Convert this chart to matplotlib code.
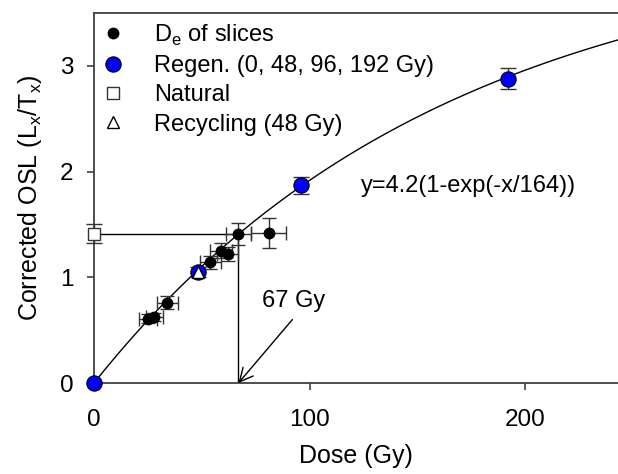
import numpy as np
import matplotlib
matplotlib.use("Agg")
import matplotlib.pyplot as plt
from matplotlib.lines import Line2D

plt.rcParams['font.family'] = ['Liberation Sans', 'DejaVu Sans']

# ---- data ----
slice_dose = [25, 28, 34, 54, 59, 62, 67, 81]
slice_lx = [0.61, 0.625, 0.76, 1.14, 1.25, 1.22, 1.41, 1.42]
slice_xerr = [4, 4, 5, 5, 5, 5, 6, 8]
slice_yerr = [0.04, 0.04, 0.06, 0.06, 0.07, 0.07, 0.10, 0.14]

regen_dose = [0, 48, 96, 192]
regen_lx = [0.0, 1.05, 1.87, 2.88]
regen_yerr = [0.0, 0.05, 0.08, 0.10]

natural_dose = [0]
natural_lx = [1.41]
natural_yerr = [0.09]

recycle_dose = [48]
recycle_lx = [1.05]

fit_A = 4.2
fit_D0 = 164
de_value = 67

x_ticks = [0, 100, 200]
y_ticks = [0, 1, 2, 3]

# ---- figure ----
fig = plt.figure(figsize=(6.18, 4.74), dpi=100)
ax = fig.add_axes([94/618, 1-383/474, 1-94/618, (383-13)/474])
ax.set_xlim(0, 243)
ax.set_ylim(0, 3.5)

spine_col = '#404040'
for s in ['left', 'bottom', 'top']:
    ax.spines[s].set_color(spine_col)
    ax.spines[s].set_linewidth(1.3)
ax.spines['right'].set_visible(False)

# fit curve
xc = np.linspace(0, 243, 400)
ax.plot(xc, fit_A * (1 - np.exp(-xc / fit_D0)), color='black', lw=1.0, zorder=2)

# De construction lines
nat = natural_lx[0]
ax.plot([natural_dose[0], de_value], [nat, nat], color='black', lw=1.0, zorder=2)
ax.plot([de_value, de_value], [nat, 0], color='black', lw=1.0, zorder=2)

# slices
ax.errorbar(slice_dose, slice_lx, xerr=slice_xerr, yerr=slice_yerr, fmt='o',
            color='black', ms=7.5, elinewidth=1.0, capsize=5, capthick=1.0,
            ecolor='#333333', zorder=4)

# regen
ax.errorbar(regen_dose, regen_lx, yerr=regen_yerr, fmt='none', ecolor='#333333',
            elinewidth=1.0, capsize=6, capthick=1.0, zorder=4)
ax.plot(regen_dose, regen_lx, 'o', color='#0000ff', mec='black', mew=0.8, ms=11,
        zorder=5, clip_on=False)

# natural
ax.errorbar(natural_dose, natural_lx, yerr=natural_yerr, fmt='none', ecolor='#333333',
            elinewidth=1.0, capsize=6, capthick=1.0, zorder=4, clip_on=False)
ax.plot(natural_dose, natural_lx, 's', mfc='white', mec='#333333', mew=1.0, ms=9,
        zorder=5, clip_on=False)

# recycling
ax.plot(recycle_dose, recycle_lx, '^', mfc='white', mec='black', mew=1.0, ms=8, zorder=6)

# annotations
ax.text(124, 1.86, 'y=4.2(1-exp(-x/164))', fontsize=17, va='center', ha='left')
ax.text(78, 0.78, '67 Gy', fontsize=17, ha='left', va='center')
ax.annotate('', xy=(de_value, 0), xytext=(92, 0.60),
            arrowprops=dict(arrowstyle='->', color='black', lw=1.0,
                            shrinkA=0, shrinkB=0, mutation_scale=24))

# ticks
ax.set_xticks(x_ticks)
ax.set_yticks(y_ticks)
ax.tick_params(direction='out', length=5, width=1.2, color=spine_col,
               labelsize=17.5, pad=10)
ax.tick_params(axis='x', pad=14)

ax.set_xlabel('Dose (Gy)', fontsize=18, labelpad=9)
ax.set_ylabel('Corrected OSL (L$_\\mathregular{x}$/T$_\\mathregular{x}$)', fontsize=18, labelpad=11)

# legend
handles = [
    Line2D([], [], ls='none', marker='o', color='black', ms=7.5),
    Line2D([], [], ls='none', marker='o', mfc='#0000ff', mec='black', mew=0.8, ms=11),
    Line2D([], [], ls='none', marker='s', mfc='white', mec='#333333', mew=1.0, ms=9),
    Line2D([], [], ls='none', marker='^', mfc='white', mec='black', mew=1.0, ms=8),
]
labels = ['D$_\\mathregular{e}$ of slices', 'Regen. (0, 48, 96, 192 Gy)', 'Natural', 'Recycling (48 Gy)']
ax.legend(handles, labels, loc='upper left', bbox_to_anchor=(0.0, 1.0), frameon=False,
          fontsize=17, handlelength=0.8, handletextpad=1.35, labelspacing=0.31,
          borderaxespad=0.2, borderpad=0.2)

fig.savefig('out.png', dpi=100)
